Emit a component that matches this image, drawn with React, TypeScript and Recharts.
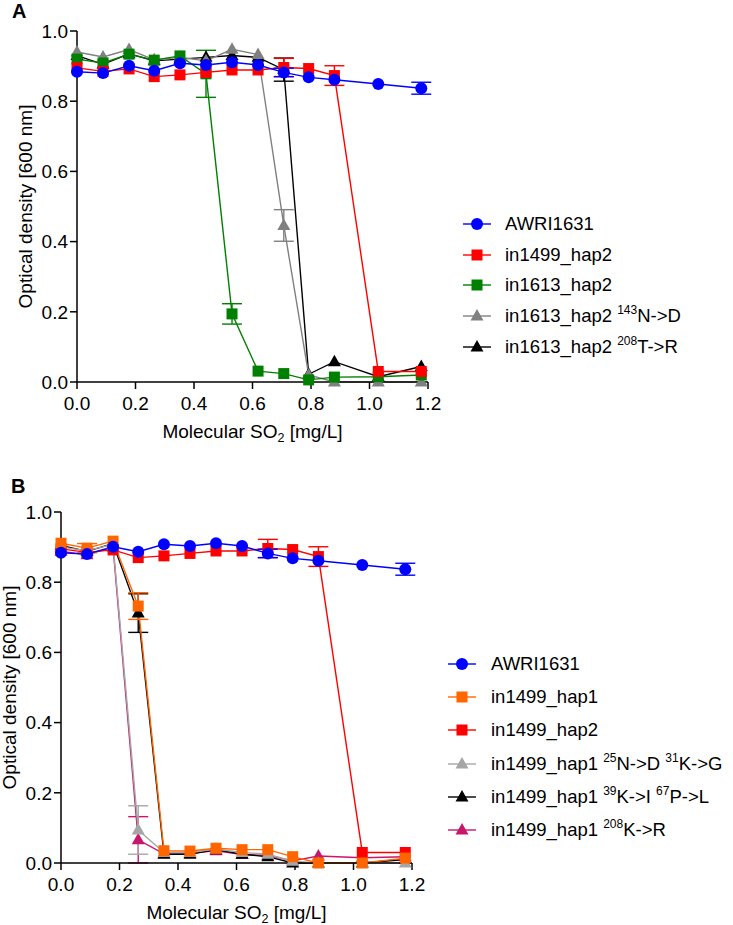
import React from 'react';
import { LineChart, Line, XAxis, YAxis, ErrorBar } from 'recharts';

const FONT = '"Liberation Sans", Arial, Helvetica, sans-serif';

// molecular SO2 concentrations (mg/L)
const sulfite = [0, 0.089, 0.178, 0.264, 0.352, 0.441, 0.53, 0.619, 0.707, 0.792, 0.88, 1.03, 1.177];
const xTicks = [0, 0.2, 0.4, 0.6, 0.8, 1.0, 1.2];
const yTicks = [0, 0.2, 0.4, 0.6, 0.8, 1.0];

// OD600 means and error values
const awri1631 = [0.884, 0.88, 0.901, 0.887, 0.908, 0.903, 0.911, 0.903, 0.882, 0.868, 0.861, 0.849, 0.837];
const awri1631Err = [null, null, null, null, null, null, null, null, 0.012, null, null, null, 0.017];

const in1499Hap2 = [0.895, 0.885, 0.892, 0.87, 0.875, 0.882, 0.889, 0.889, 0.896, 0.893, 0.873, 0.03, 0.03];
const in1499Hap2Err = [null, null, null, null, null, null, null, null, 0.026, null, 0.028, null, null];

const in1613Hap2 = [0.92, 0.909, 0.934, 0.917, 0.929, 0.878, 0.194, 0.031, 0.024, 0.006, 0.014, 0.015, 0.02];
const in1613Hap2Err = [null, null, null, null, null, 0.067, 0.029, null, null, null, null, null, null];

const in1613N143D = [0.94, 0.926, 0.947, 0.918, 0.925, 0.915, 0.948, 0.933, 0.446, 0.02, 0.0, 0.0, 0.0];
const in1613N143DErr = [null, null, null, null, null, null, null, null, 0.045, null, null, null, null];

const in1613T208R = [0.93, 0.905, 0.935, 0.915, 0.92, 0.925, 0.93, 0.925, 0.89, 0.022, 0.058, 0.015, 0.044];
const in1613T208RErr = [null, null, null, null, null, null, null, null, 0.033, null, null, null, null];

const in1499Hap1 = [0.911, 0.897, 0.917, 0.732, 0.035, 0.034, 0.042, 0.038, 0.038, 0.018, 0.0, 0.0, 0.014];
const in1499Hap1Err = [null, 0.013, null, 0.038, null, null, null, null, null, null, null, null, null];

const in1499N25D = [0.9, 0.89, 0.908, 0.094, 0.03, 0.03, 0.04, 0.03, 0.025, 0.005, 0.0, 0.0, 0.0];
const in1499N25DErr = [null, null, null, 0.069, null, null, null, null, null, null, null, null, null];

const in1499K39I = [0.905, 0.888, 0.91, 0.712, 0.025, 0.025, 0.038, 0.025, 0.018, 0.0, 0.0, 0.0, 0.01];
const in1499K39IErr = [null, null, null, 0.055, null, null, null, null, null, null, null, null, null];

const in1499K208R = [0.888, 0.878, 0.9, 0.066, 0.026, 0.028, 0.035, 0.024, 0.022, 0.006, 0.02, 0.015, 0.018];
const in1499K208RErr = [null, null, null, 0.066, null, null, null, null, null, null, null, null, null];

type Shape = 'circle' | 'square' | 'triangle';
type Series = { name: string; values: number[]; errors: (number | null)[]; color: string; shape: Shape };

const panelA: Series[] = [
  { name: 'AWRI1631', values: awri1631, errors: awri1631Err, color: '#0000ff', shape: 'circle' },
  { name: 'in1499_hap2', values: in1499Hap2, errors: in1499Hap2Err, color: '#ff0000', shape: 'square' },
  { name: 'in1613_hap2', values: in1613Hap2, errors: in1613Hap2Err, color: '#008000', shape: 'square' },
  { name: 'in1613_hap2 ^143N->D', values: in1613N143D, errors: in1613N143DErr, color: '#808080', shape: 'triangle' },
  { name: 'in1613_hap2 ^208T->R', values: in1613T208R, errors: in1613T208RErr, color: '#000000', shape: 'triangle' },
];

const panelB: Series[] = [
  { name: 'AWRI1631', values: awri1631, errors: awri1631Err, color: '#0000ff', shape: 'circle' },
  { name: 'in1499_hap1', values: in1499Hap1, errors: in1499Hap1Err, color: '#ff6600', shape: 'square' },
  { name: 'in1499_hap2', values: in1499Hap2, errors: in1499Hap2Err, color: '#ff0000', shape: 'square' },
  { name: 'in1499_hap1 ^25N->D ^31K->G', values: in1499N25D, errors: in1499N25DErr, color: '#a6a6a6', shape: 'triangle' },
  { name: 'in1499_hap1 ^39K->I ^67P->L', values: in1499K39I, errors: in1499K39IErr, color: '#000000', shape: 'triangle' },
  { name: 'in1499_hap1 ^208K->R', values: in1499K208R, errors: in1499K208RErr, color: '#c8176b', shape: 'triangle' },
];

// which series end up on top
const orderA = [4, 3, 2, 1, 0];
const orderB = [5, 4, 3, 2, 1, 0];

function Marker({ cx, cy, shape, color }: { cx?: number; cy?: number; shape: Shape; color: string }) {
  if (cx == null || cy == null) return null;
  if (shape === 'circle') return <circle cx={cx} cy={cy} r={6} fill={color} />;
  if (shape === 'square') return <rect x={cx - 5.5} y={cy - 5.5} width={11} height={11} fill={color} />;
  return <path d={`M${cx},${cy - 7}L${cx + 6.5},${cy + 4.5}L${cx - 6.5},${cy + 4.5}Z`} fill={color} />;
}

// "name ^143N->D" -> text with superscripts
function LabelText({ name }: { name: string }) {
  const parts = name.split(/\^(\d+)/);
  return (
    <span style={{ whiteSpace: 'nowrap' }}>
      {parts.map((p, i) =>
        i % 2 === 1 ? (
          <span key={i} style={{ fontSize: 12, position: 'relative', top: -8 }}>{p}</span>
        ) : (
          <span key={i}>{p}</span>
        )
      )}
    </span>
  );
}

function Legend({ series, left, top, rowHeight, gap }: { series: Series[]; left: number; top: number; rowHeight: number; gap: number }) {
  return (
    <div style={{ position: 'absolute', left, top, fontFamily: FONT, fontSize: 18.5, color: '#000' }}>
      {series.map((s) => (
        <div key={s.name} style={{ height: rowHeight, display: 'flex', alignItems: 'center' }}>
          <svg width={28} height={16} style={{ flex: 'none' }}>
            <line x1={0} y1={8} x2={28} y2={8} stroke={s.color} strokeWidth={1.4} />
            <Marker cx={14} cy={8} shape={s.shape} color={s.color} />
          </svg>
          <div style={{ marginLeft: gap }}>
            <LabelText name={s.name} />
          </div>
        </div>
      ))}
    </div>
  );
}

const yLabel = (props: any) => {
  const vb = props.viewBox || {};
  const x = (vb.x || 0) + (vb.width || 0) - 52;
  const y = (vb.y || 0) + (vb.height || 0) / 2;
  return (
    <text x={x} y={y} transform={`rotate(-90 ${x} ${y})`} textAnchor="middle" dominantBaseline="central"
      fontFamily={FONT} fontSize={19} fill="#000">
      Optical density [600 nm]
    </text>
  );
};

const xLabel = (props: any) => {
  const vb = props.viewBox || {};
  const x = (vb.x || 0) + (vb.width || 0) / 2;
  const y = (vb.y || 0) + 56;
  return (
    <text x={x} y={y} textAnchor="middle" fontFamily={FONT} fontSize={19} fill="#000">
      <tspan>Molecular SO</tspan>
      <tspan fontSize={12.5} dy={4}>2</tspan>
      <tspan dy={-4}> [mg/L]</tspan>
    </text>
  );
};

function Panel({ series, order, height, margin, yWidth }: {
  series: Series[]; order: number[]; height: number;
  margin: { top: number; right: number; left: number; bottom: number }; yWidth: number;
}) {
  const axisStyle = { stroke: '#000', strokeWidth: 1.5 };
  const tickStyle = { fill: '#000', fontSize: 19, fontFamily: FONT };
  return (
    <LineChart width={733} height={height} margin={margin}>
      <XAxis
        type="number"
        dataKey="x"
        domain={[0, 1.2]}
        ticks={xTicks}
        interval={0}
        tickFormatter={(v: number) => v.toFixed(1)}
        axisLine={axisStyle}
        tickLine={axisStyle}
        tickSize={7}
        tickMargin={8}
        tick={tickStyle}
        height={60}
        label={xLabel}
      />
      <YAxis
        type="number"
        domain={[0, 1]}
        ticks={yTicks}
        interval={0}
        tickFormatter={(v: number) => v.toFixed(1)}
        axisLine={axisStyle}
        tickLine={axisStyle}
        tickSize={7}
        tickMargin={2}
        tick={tickStyle}
        width={yWidth}
        label={yLabel}
      />
      {order.map((idx) => {
        const s = series[idx];
        const data = sulfite.map((x, i) => ({ x, od: s.values[i], err: s.errors[i] }));
        return (
          <Line
            key={s.name}
            data={data}
            dataKey="od"
            name={s.name}
            type="linear"
            stroke={s.color}
            strokeWidth={1.4}
            isAnimationActive={false}
            activeDot={false}
            dot={(p: any) => <Marker key={`${s.name}-${p.index}`} cx={p.cx} cy={p.cy} shape={s.shape} color={s.color} />}
          >
            <ErrorBar dataKey="err" direction="y" width={10} stroke={s.color} strokeWidth={1.4} isAnimationActive={false} />
          </Line>
        );
      })}
    </LineChart>
  );
}

export default function App() {
  return (
    <div style={{ position: 'absolute', left: 0, top: 0, width: 733, height: 925, background: '#fff', overflow: 'hidden' }}>
      <div style={{ position: 'absolute', left: 0, top: 0 }}>
        <Panel series={panelA} order={orderA} height={460} margin={{ top: 31, right: 305, left: 0, bottom: 18 }} yWidth={77} />
      </div>
      <div style={{ position: 'absolute', left: 0, top: 460 }}>
        <Panel series={panelB} order={orderB} height={465} margin={{ top: 52, right: 321, left: 0, bottom: 2 }} yWidth={61} />
      </div>
      <Legend series={panelA} left={463} top={208.6} rowHeight={30.7} gap={14} />
      <Legend series={panelB} left={448} top={647.4} rowHeight={33.2} gap={15} />
      <svg width={733} height={925} style={{ position: 'absolute', left: 0, top: 0, pointerEvents: 'none' }}>
        <text x={12} y={18} fontFamily={FONT} fontWeight="bold" fontSize={20} fill="#000">A</text>
        <text x={11} y={493} fontFamily={FONT} fontWeight="bold" fontSize={20} fill="#000">B</text>
      </svg>
    </div>
  );
}
